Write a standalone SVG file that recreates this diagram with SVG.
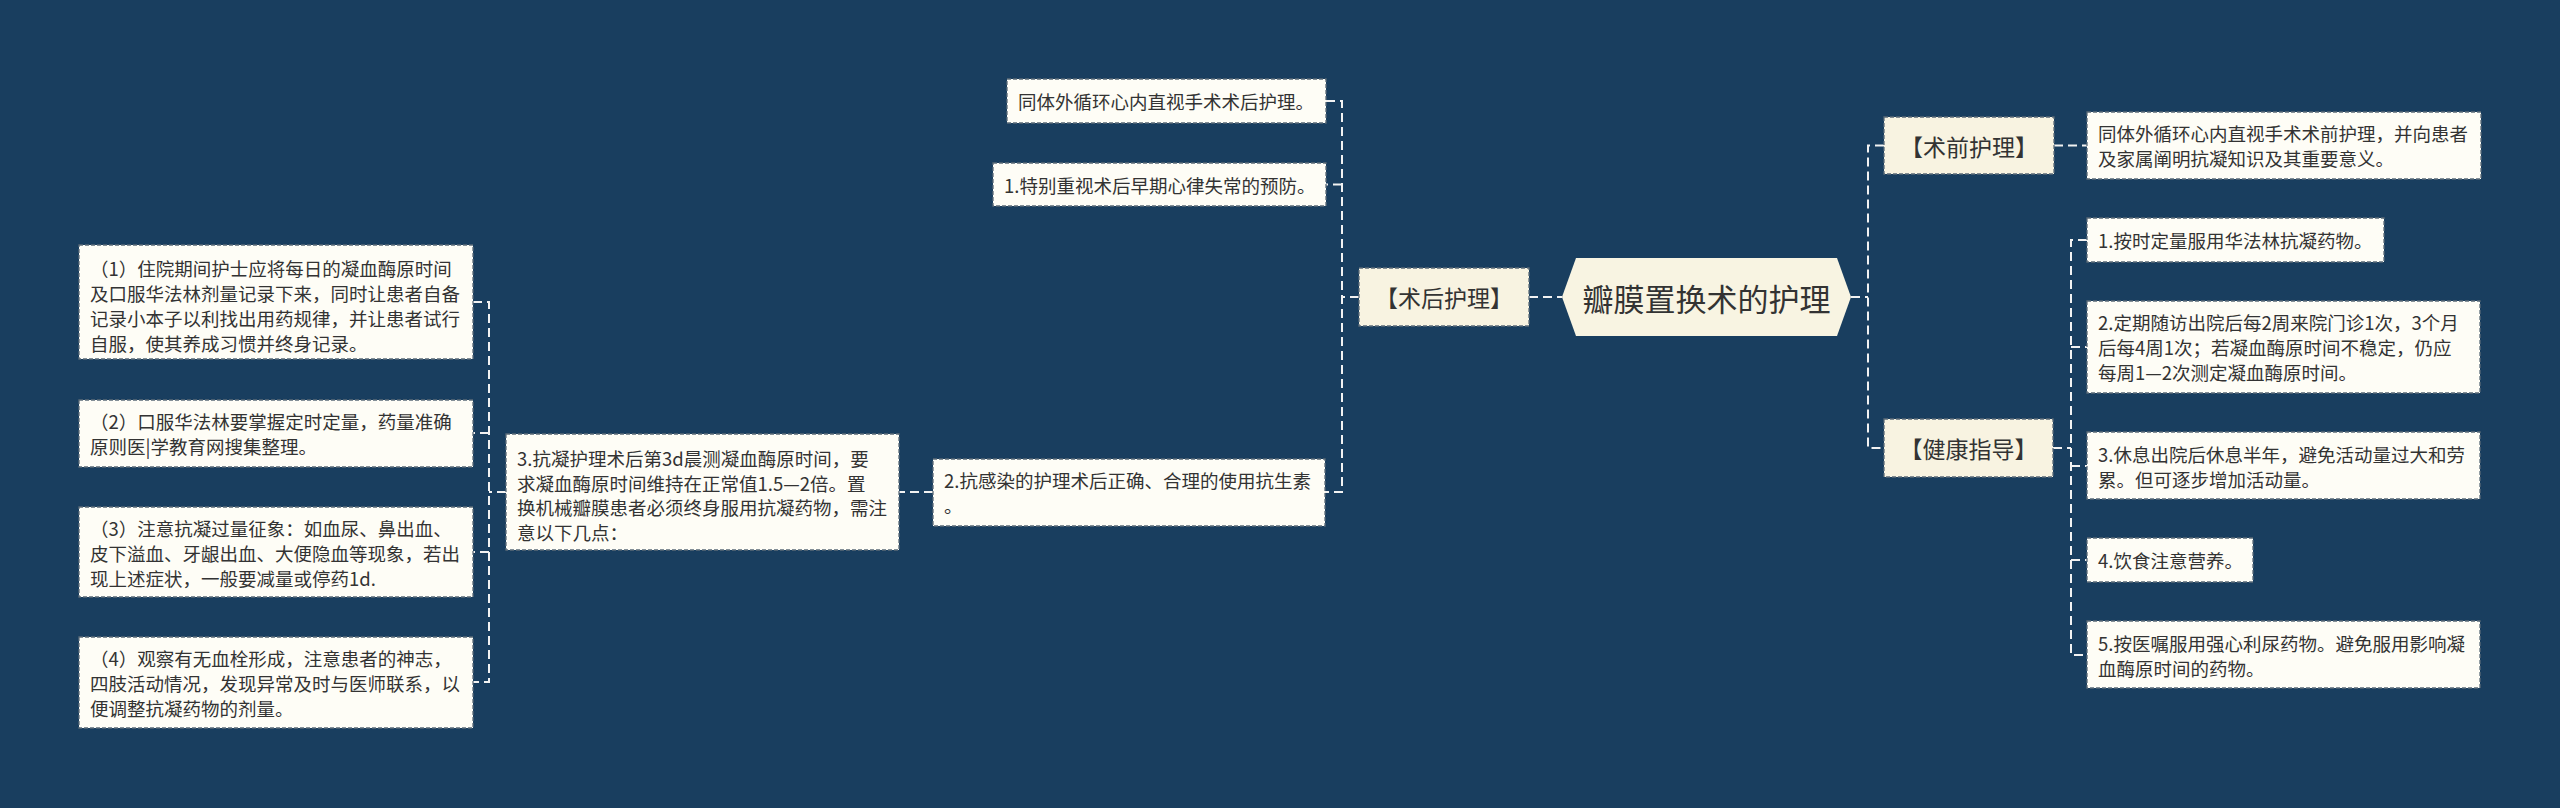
<svg xmlns="http://www.w3.org/2000/svg" width="2560" height="808" viewBox="0 0 2560 808">
<style>
.bg{fill:#193e5f}
.leaf{fill:#fefdf6;stroke:#5b6b78;stroke-width:1.3;stroke-dasharray:4 2}
.l1{fill:#f8f3e1;stroke:#5b6b78;stroke-width:1.3;stroke-dasharray:4 2}
.hex{fill:#f8f4e2}
.t{font-family:"Noto Sans CJK SC","Noto Sans",sans-serif;font-size:18.5px;fill:#333;dominant-baseline:central}
.t1{font-family:"Noto Sans CJK SC","Noto Sans",sans-serif;font-size:23px;fill:#333;dominant-baseline:central;text-anchor:middle}
.tc{font-family:"Noto Sans CJK SC","Noto Sans",sans-serif;font-size:31px;fill:#333;dominant-baseline:central;text-anchor:middle}
.c{fill:none;stroke:#f2f2f2;stroke-width:2;stroke-dasharray:9 5}
</style>
<rect class="bg" x="0" y="0" width="2560" height="808"/>
<g id="connectors">
<path class="c" d="M1529,297 H1562"/>
<path class="c" d="M1359,297 H1342"/>
<path class="c" d="M1326,101 H1342 V492 H1325"/>
<path class="c" d="M1342,184.5 H1326"/>
<path class="c" d="M933,492 H899"/>
<path class="c" d="M506,492 H489"/>
<path class="c" d="M473,302 H489 V682 H473"/>
<path class="c" d="M489,433 H473"/>
<path class="c" d="M489,552 H473"/>
<path class="c" d="M1851,297 H1868"/>
<path class="c" d="M1884,145.5 H1868 V448 H1884"/>
<path class="c" d="M2054,145.5 H2087"/>
<path class="c" d="M2053,448 H2071"/>
<path class="c" d="M2087,240 H2071 V655 H2087"/>
<path class="c" d="M2071,347 H2087"/>
<path class="c" d="M2071,466 H2087"/>
<path class="c" d="M2071,560 H2087"/>
</g>
<g id="center">
<polygon class="hex" points="1562,297 1576,258 1837,258 1851,297 1837,336 1576,336"/>
<text class="tc" x="1706.5" y="297">瓣膜置换术的护理</text>
</g>
<g id="postop">
<rect class="l1" x="1359" y="268" width="170" height="58"/>
<text class="t1" x="1444" y="297">【术后护理】</text>
</g>
<g id="preop">
<rect class="l1" x="1884" y="117" width="170" height="57"/>
<text class="t1" x="1969" y="145.5">【术前护理】</text>
</g>
<g id="health">
<rect class="l1" x="1884" y="419" width="169" height="58"/>
<text class="t1" x="1968.5" y="448">【健康指导】</text>
</g>
<g id="postA">
<rect class="leaf" x="1007" y="79" width="319" height="44"/>
<text class="t" x="1018" y="101">同体外循环心内直视手术术后护理。</text>
</g>
<g id="postB">
<rect class="leaf" x="993" y="163" width="333" height="43"/>
<text class="t" x="1004" y="184.5">1.特别重视术后早期心律失常的预防。</text>
</g>
<g id="post2">
<rect class="leaf" x="933" y="459" width="392" height="67"/>
<text class="t" x="944" y="480">2.抗感染的护理术后正确、合理的使用抗生素</text>
<text class="t" x="944" y="505">。</text>
</g>
<g id="post3">
<rect class="leaf" x="506" y="434" width="393" height="116"/>
<text class="t" x="517" y="458">3.抗凝护理术后第3d晨测凝血酶原时间，要</text>
<text class="t" x="517" y="483">求凝血酶原时间维持在正常值1.5—2倍。置</text>
<text class="t" x="517" y="507">换机械瓣膜患者必须终身服用抗凝药物，需注</text>
<text class="t" x="517" y="532">意以下几点：</text>
</g>
<g id="left1">
<rect class="leaf" x="79" y="245" width="394" height="114"/>
<text class="t" x="90" y="268">（1）住院期间护士应将每日的凝血酶原时间</text>
<text class="t" x="90" y="293">及口服华法林剂量记录下来，同时让患者自备</text>
<text class="t" x="90" y="318">记录小本子以利找出用药规律，并让患者试行</text>
<text class="t" x="90" y="343">自服，使其养成习惯并终身记录。</text>
</g>
<g id="left2">
<rect class="leaf" x="79" y="400" width="394" height="67"/>
<text class="t" x="90" y="421">（2）口服华法林要掌握定时定量，药量准确</text>
<text class="t" x="90" y="446">原则医|学教育网搜集整理。</text>
</g>
<g id="left3">
<rect class="leaf" x="79" y="507" width="394" height="90"/>
<text class="t" x="90" y="528">（3）注意抗凝过量征象：如血尿、鼻出血、</text>
<text class="t" x="90" y="553">皮下溢血、牙龈出血、大便隐血等现象，若出</text>
<text class="t" x="90" y="578">现上述症状，一般要减量或停药1d.</text>
</g>
<g id="left4">
<rect class="leaf" x="79" y="637" width="394" height="91"/>
<text class="t" x="90" y="658">（4）观察有无血栓形成，注意患者的神志，</text>
<text class="t" x="90" y="683">四肢活动情况，发现异常及时与医师联系，以</text>
<text class="t" x="90" y="708">便调整抗凝药物的剂量。</text>
</g>
<g id="preText">
<rect class="leaf" x="2087" y="112" width="394" height="67"/>
<text class="t" x="2098" y="133">同体外循环心内直视手术术前护理，并向患者</text>
<text class="t" x="2098" y="158">及家属阐明抗凝知识及其重要意义。</text>
</g>
<g id="h1">
<rect class="leaf" x="2087" y="218" width="297" height="44"/>
<text class="t" x="2098" y="240">1.按时定量服用华法林抗凝药物。</text>
</g>
<g id="h2">
<rect class="leaf" x="2087" y="301" width="393" height="92"/>
<text class="t" x="2098" y="322">2.定期随访出院后每2周来院门诊1次，3个月</text>
<text class="t" x="2098" y="347">后每4周1次；若凝血酶原时间不稳定，仍应</text>
<text class="t" x="2098" y="372">每周1—2次测定凝血酶原时间。</text>
</g>
<g id="h3">
<rect class="leaf" x="2087" y="432" width="393" height="67"/>
<text class="t" x="2098" y="453.5">3.休息出院后休息半年，避免活动量过大和劳</text>
<text class="t" x="2098" y="478.5">累。但可逐步增加活动量。</text>
</g>
<g id="h4">
<rect class="leaf" x="2087" y="538" width="166" height="44"/>
<text class="t" x="2098" y="560">4.饮食注意营养。</text>
</g>
<g id="h5">
<rect class="leaf" x="2087" y="621" width="393" height="67"/>
<text class="t" x="2098" y="642.5">5.按医嘱服用强心利尿药物。避免服用影响凝</text>
<text class="t" x="2098" y="667.5">血酶原时间的药物。</text>
</g>
</svg>
